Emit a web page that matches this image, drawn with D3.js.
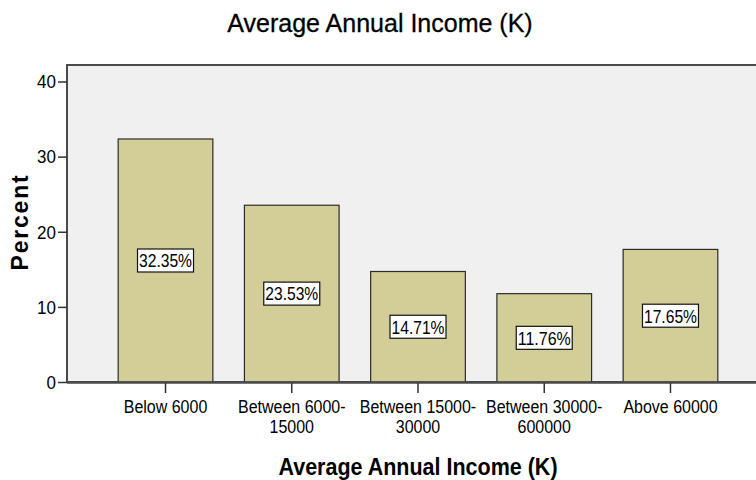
<!DOCTYPE html>
<html>
<head>
<meta charset="utf-8">
<script src="https://cdn.jsdelivr.net/npm/d3@7"></script>
<style>
  html, body { margin: 0; padding: 0; background: #ffffff; }
  svg { display: block; }
  text { font-family: "Liberation Sans", Arial, sans-serif; fill: #000; }
</style>
</head>
<body>
<svg id="chart" width="756" height="480"></svg>
<script>
// Income bands (each label split into display lines) and their share in percent
const categories = ["Below 6000", "Between 6000-15000", "Between 15000-30000", "Between 30000-600000", "Above 60000"];
const categoryLines = [["Below 6000"], ["Between 6000-", "15000"], ["Between 15000-", "30000"], ["Between 30000-", "600000"], ["Above 60000"]];
const percents = [32.35, 23.53, 14.71, 11.76, 17.65];
const yTicks = [0, 10, 20, 30, 40];
const chartTitle = "Average Annual Income (K)";
const xTitle = "Average Annual Income (K)";
const yTitle = "Percent";

const svg = d3.select("#chart");

const plot = { left: 67, top: 65, right: 760, bottom: 382 };

const x = d3.scaleBand()
  .domain(categories)
  .range([102.4, 733.6])
  .paddingInner(0.25)
  .paddingOuter(0.125);

const y = d3.scaleLinear()
  .domain([0, 42.2])
  .range([plot.bottom, plot.top]);

// plot background
svg.append("rect")
  .attr("x", plot.left).attr("y", plot.top)
  .attr("width", plot.right - plot.left).attr("height", plot.bottom - plot.top)
  .attr("fill", "#f0f0f0")
  .attr("stroke", "#4a4a4a").attr("stroke-width", 2);

// bars
svg.append("g").selectAll("rect")
  .data(percents)
  .join("rect")
  .attr("x", (d, i) => x(categories[i]))
  .attr("y", d => y(d))
  .attr("width", x.bandwidth())
  .attr("height", d => y(0) - y(d))
  .attr("fill", "#d3ce98")
  .attr("stroke", "#2b2b2b")
  .attr("stroke-width", 1.2);

// baseline
svg.append("line")
  .attr("x1", plot.left).attr("x2", 756)
  .attr("y1", plot.bottom + 0.5).attr("y2", plot.bottom + 0.5)
  .attr("stroke", "#4a4a4a").attr("stroke-width", 2.5);

// y axis
const yAxis = d3.axisLeft(y).tickValues(yTicks).tickSize(9).tickPadding(2).tickFormat(d3.format("d"));
const gy = svg.append("g").attr("transform", `translate(${plot.left},0)`).call(yAxis);
gy.select(".domain").remove();
gy.selectAll(".tick line").attr("stroke", "#333").attr("stroke-width", 1.5);
gy.selectAll(".tick text")
  .attr("font-size", 17)
  .attr("font-family", "Liberation Sans, Arial, sans-serif")
  .attr("fill", "#111")
  .attr("dy", "0.34em")
  .attr("transform", "scale(1,1.08)");

// x axis: one text element per label line
const xAxis = d3.axisBottom(x).tickSize(10).tickFormat("");
const gx = svg.append("g").attr("transform", `translate(0,${plot.bottom + 1})`).call(xAxis);
gx.select(".domain").remove();
gx.selectAll(".tick line").attr("stroke", "#333").attr("stroke-width", 1.5);
gx.selectAll(".tick").each(function (d, i) {
  const tick = d3.select(this);
  categoryLines[i].forEach((line, k) => {
    tick.append("text")
      .attr("text-anchor", "middle")
      .attr("font-size", 16)
      .attr("fill", "#111")
      .attr("transform", `translate(0,${30 + k * 19.5}) scale(1,1.1)`)
      .text(line);
  });
});

// value labels in boxes at bar mid-height
const labels = svg.append("g").selectAll("g")
  .data(percents)
  .join("g")
  .attr("transform", (d, i) => `translate(${x(categories[i]) + x.bandwidth() / 2},${y(d / 2)})`);
labels.append("rect")
  .attr("x", -28).attr("y", -11.5)
  .attr("width", 56).attr("height", 23)
  .attr("fill", "#ffffff")
  .attr("stroke", "#111").attr("stroke-width", 1.2);
labels.append("text")
  .attr("text-anchor", "middle")
  .attr("dy", "0.36em")
  .attr("font-size", 19)
  .attr("textLength", 53)
  .attr("lengthAdjust", "spacingAndGlyphs")
  .text(d => d.toFixed(2) + "%");

// titles
svg.append("text")
  .attr("x", 380).attr("y", 32)
  .attr("text-anchor", "middle")
  .attr("font-size", 25)
  .attr("stroke", "#000").attr("stroke-width", 0.3)
  .text(chartTitle);

svg.append("text")
  .attr("transform", "translate(418,475) scale(1,1.1)")
  .attr("text-anchor", "middle")
  .attr("font-size", 21.5)
  .attr("font-weight", "bold")
  .text(xTitle);

svg.append("text")
  .attr("transform", "translate(28,222) rotate(-90)")
  .attr("text-anchor", "middle")
  .attr("font-size", 23)
  .attr("font-weight", "bold")
  .attr("letter-spacing", 1.8)
  .text(yTitle);
</script>
</body>
</html>
